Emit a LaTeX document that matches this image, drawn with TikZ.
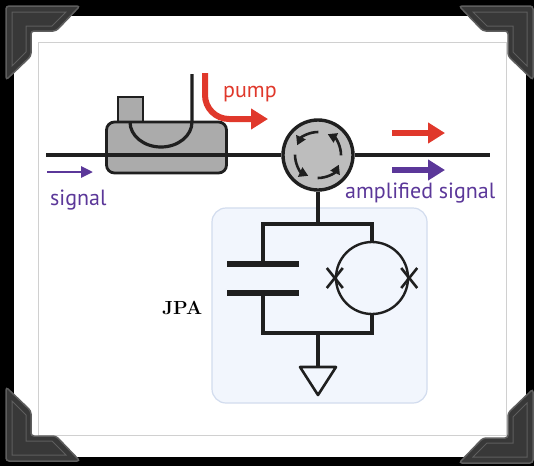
\documentclass[tikz,border=0pt]{standalone}
\usepackage{fontspec}
\usepackage{tikz}
\usetikzlibrary{arrows.meta,positioning,calc}
\newfontfamily\lblfont{PT Sans}
\definecolor{wirec}{HTML}{1F1F1F}
\definecolor{pumpc}{HTML}{E0382B}
\definecolor{sigc}{HTML}{5B3799}
\definecolor{devc}{HTML}{ABABAB}
\definecolor{circc}{HTML}{BDBDBD}
\definecolor{jpabg}{HTML}{F2F6FD}
\definecolor{jpaline}{HTML}{D2DCEE}
\definecolor{cornc}{HTML}{383838}
\definecolor{cornhi}{HTML}{5E5E5E}
\definecolor{rulec}{HTML}{D0D0D0}
\tikzset{
  wr/.style={line width=3.2pt,wirec},
  fatar/.style={-{Triangle[length=17pt,width=20pt]},line width=6pt},
  sigar/.style={-{Triangle[length=12pt,width=11pt]},line width=2.8pt,sigc},
  cirar/.style={-{Triangle[length=9pt,width=10pt]},line width=2.6pt,wirec},
  plate/.style={line width=5.5pt,wirec},
  lbl/.style={font=\lblfont\fontsize{22}{22}\selectfont,inner sep=0pt,anchor=base west},
  corner/.style={fill=cornc,draw=cornhi,line width=1.5pt,rounded corners=3pt}
}

\begin{document}
\begin{tikzpicture}[x=1pt,y=-1pt]
\useasboundingbox (0,0) rectangle (534,466);
\fill[black] (0,0) rectangle (534,466);
\fill[white] (14,16) rectangle (526,457);
\draw[rulec,line width=0.8pt] (38,42) rectangle (506,435);
% photo corners
\foreach \cx/\cy/\sx/\sy in {6/6/1/1,533/6/-1/1,6/461/1/-1,533/463/-1/-1}{
  \begin{scope}[shift={(\cx,\cy)},xscale=\sx,yscale=\sy]
    \filldraw[corner] (0,0) -- (74,0) -- (50,25) -- (25,25) -- (25,50) -- (0,74) -- cycle;
    \draw[cornhi,line width=1pt] (6,6) -- (60,6) -- (46,20) -- (20,20) -- (20,46) -- (6,60) -- cycle;
  \end{scope}
}

\node[draw=jpaline,fill=jpabg,line width=1.2pt,rounded corners=14pt,minimum width=215pt,minimum height=195pt] (jpa) at (319.5,305.5) {};

% coupler and circulator on the line
\node[draw=wirec,fill=devc,line width=2.4pt,minimum width=25pt,minimum height=25pt] (tab) at (130.5,109.5) {};
\node[draw=wirec,fill=devc,line width=2.8pt,rounded corners=8pt,minimum width=120pt,minimum height=51pt] (cpl) at (166.5,147.5) {};
\coordinate (uin) at (130,122);
\coordinate (utop) at (192,74);
\draw[wr] (uin) arc[start angle=180,end angle=0,x radius=31,y radius=25] -- (utop);
\node[circle,draw=wirec,fill=circc,line width=3.4pt,minimum size=70pt,inner sep=0pt] (circ) at (318,155) {};
\coordinate (inL) at (46,155);
\coordinate (outR) at (490,155);
\draw[wr] (inL) -- (circ);
\draw[wr] (circ) -- (outR);
\begin{scope}[shift={(circ.center)},yscale=-1]
  \foreach \e in {65,155,245,335}
    \draw[cirar] (\e-66:23) arc[start angle=\e-66,end angle=\e,radius=23];
\end{scope}

% JPA circuit
\coordinate (tj) at (318,224);
\coordinate (tl) at (263,224);
\coordinate (tr) at (372,224);
\coordinate (bl) at (263,333);
\coordinate (br) at (372,333);
\coordinate (bj) at (318,333);
\coordinate (cu) at (263,264);
\coordinate (cd) at (263,293);
\coordinate (gt) at (318,367);
\node[circle,draw=wirec,line width=2.4pt,minimum size=72pt,inner sep=0pt] (sq) at (372,278) {};
\draw[wr] (circ.south) -- (tj);
\draw[wr] (cu) -- (tl) -- (tr) -- (sq.north);
\draw[wr] (cd) -- (bl) -- (br) -- (sq.south);
\draw[plate] ([xshift=-36pt]cu) -- ([xshift=36pt]cu);
\draw[plate] ([xshift=-36pt]cd) -- ([xshift=36pt]cd);
\foreach \s in {west,east}
  \draw[wirec,line width=2.6pt] ([shift={(-8,-10)}]sq.\s) -- ([shift={(8,10)}]sq.\s)
    ([shift={(-8,10)}]sq.\s) -- ([shift={(8,-10)}]sq.\s);
\draw[wr] (bj) -- (gt);
\draw[wirec,line width=2.6pt,line join=round] (gt) ++(-18,0) -- ++(36,0) -- ++(-18,28) -- cycle;

% signal and pump arrows
\coordinate (sg0) at (47,172);
\coordinate (sg1) at (93,172);
\draw[sigar] (sg0) -- (sg1);
\coordinate (pp0) at (205,73);
\coordinate (pp1) at (268,119);
\draw[fatar,pumpc,rounded corners=24pt] (pp0) |- (pp1);
\coordinate (pr0) at (392,133);
\coordinate (pr1) at (445,133);
\draw[fatar,pumpc] (pr0) -- (pr1);
\coordinate (as0) at (392,170);
\coordinate (as1) at (445,170);
\draw[fatar,sigc] (as0) -- (as1);

\node[lbl,text=sigc] (sigl) at (50,205) {signal};
\node[lbl,text=sigc] (ampl) at (345,198) {amplified signal};
\node[lbl,text=pumpc] (pumpl) at (223,97) {pump};
\node[font=\bfseries\fontsize{19}{19}\selectfont,inner sep=0pt,anchor=base west] (jpal) at (162,314) {JPA};
\end{tikzpicture}
\end{document}
